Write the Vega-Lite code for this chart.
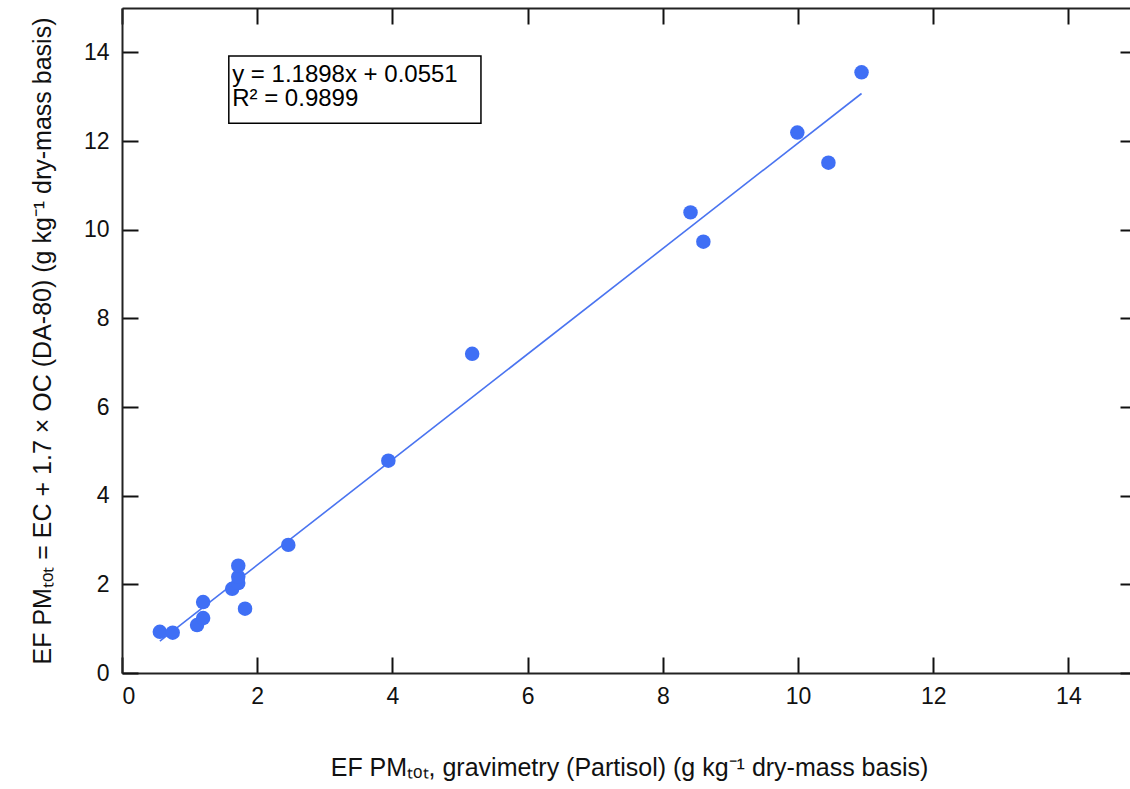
{
  "$schema": "https://vega.github.io/schema/vega-lite/v6.json",
  "width": 1014,
  "height": 665,
  "autosize": {"type": "none"},
  "padding": {"left": 122, "top": 8, "right": 0, "bottom": 116},
  "background": "white",
  "config": {
    "font": "Liberation Sans",
    "view": {"stroke": null},
    "axis": {
      "grid": false,
      "domainColor": "#222222",
      "domainWidth": 2,
      "tickColor": "#111111",
      "tickWidth": 2,
      "tickSize": -16,
      "labelFont": "Liberation Sans",
      "labelFontSize": 23,
      "labelColor": "#111111",
      "titleFont": "Liberation Sans",
      "titleFontSize": 25,
      "titleFontWeight": "normal",
      "titleColor": "#111111"
    }
  },
  "datasets": {
    "pts": [
      {"gravimetry": 0.56, "ecoc": 0.93},
      {"gravimetry": 0.75, "ecoc": 0.91},
      {"gravimetry": 1.11, "ecoc": 1.08},
      {"gravimetry": 1.20, "ecoc": 1.24},
      {"gravimetry": 1.20, "ecoc": 1.60},
      {"gravimetry": 1.63, "ecoc": 1.90},
      {"gravimetry": 1.72, "ecoc": 2.03},
      {"gravimetry": 1.72, "ecoc": 2.17},
      {"gravimetry": 1.72, "ecoc": 2.42},
      {"gravimetry": 1.82, "ecoc": 1.45},
      {"gravimetry": 2.46, "ecoc": 2.89},
      {"gravimetry": 3.94, "ecoc": 4.79},
      {"gravimetry": 5.18, "ecoc": 7.20},
      {"gravimetry": 8.41, "ecoc": 10.39},
      {"gravimetry": 8.60, "ecoc": 9.73},
      {"gravimetry": 9.99, "ecoc": 12.19},
      {"gravimetry": 10.45, "ecoc": 11.51},
      {"gravimetry": 10.94, "ecoc": 13.55}
    ],
    "fit": [
      {"gravimetry": 0.56, "ecoc": 0.7214},
      {"gravimetry": 10.94, "ecoc": 13.0715}
    ]
  },
  "resolve": {"axis": {"x": "independent", "y": "independent"}},
  "layer": [
    {
      "data": {"name": "fit"},
      "mark": {"type": "line", "color": "#4a74f0", "strokeWidth": 1.6},
      "encoding": {
        "x": {"field": "gravimetry", "type": "quantitative",
          "scale": {"domain": [0, 15], "nice": false, "zero": false},
          "axis": {"orient": "bottom", "values": [0,2,4,6,8,10,12,14], "labelPadding": 28,
            "title": "EF PMₜₒₜ, gravimetry (Partisol) (g kg⁻¹ dry-mass basis)", "titlePadding": 47}},
        "y": {"field": "ecoc", "type": "quantitative",
          "scale": {"domain": [0, 15], "nice": false, "zero": false},
          "axis": {"orient": "left", "values": [0,2,4,6,8,10,12,14], "labelPadding": 29,
            "title": "EF PMₜₒₜ = EC + 1.7 × OC (DA-80) (g kg⁻¹ dry-mass basis)", "titlePadding": 28}}
      }
    },
    {
      "data": {"name": "pts"},
      "mark": {"type": "circle", "color": "#3f6ff5", "opacity": 1, "size": 210},
      "encoding": {
        "x": {"field": "gravimetry", "type": "quantitative",
          "axis": {"orient": "top", "values": [0,2,4,6,8,10,12,14], "labels": false, "title": null}},
        "y": {"field": "ecoc", "type": "quantitative",
          "axis": {"orient": "right", "values": [0,2,4,6,8,10,12,14], "labels": false, "title": null}}
      }
    },
    {
      "data": {"values": [{}]},
      "mark": {"type": "rect", "fill": "white", "stroke": "black", "strokeWidth": 1.5},
      "encoding": {
        "x": {"datum": 1.58, "type": "quantitative", "axis": null},
        "x2": {"datum": 5.31},
        "y": {"datum": 13.92, "type": "quantitative", "axis": null},
        "y2": {"datum": 12.4}
      }
    },
    {
      "data": {"values": [{"label": ["y = 1.1898x + 0.0551", "R² = 0.9899"]}]},
      "mark": {"type": "text", "align": "left", "baseline": "alphabetic", "fontSize": 24, "lineHeight": 24, "color": "black", "font": "Liberation Sans"},
      "encoding": {
        "x": {"datum": 1.63, "type": "quantitative", "axis": null},
        "y": {"datum": 13.34, "type": "quantitative", "axis": null},
        "text": {"field": "label"}
      }
    }
  ]
}
